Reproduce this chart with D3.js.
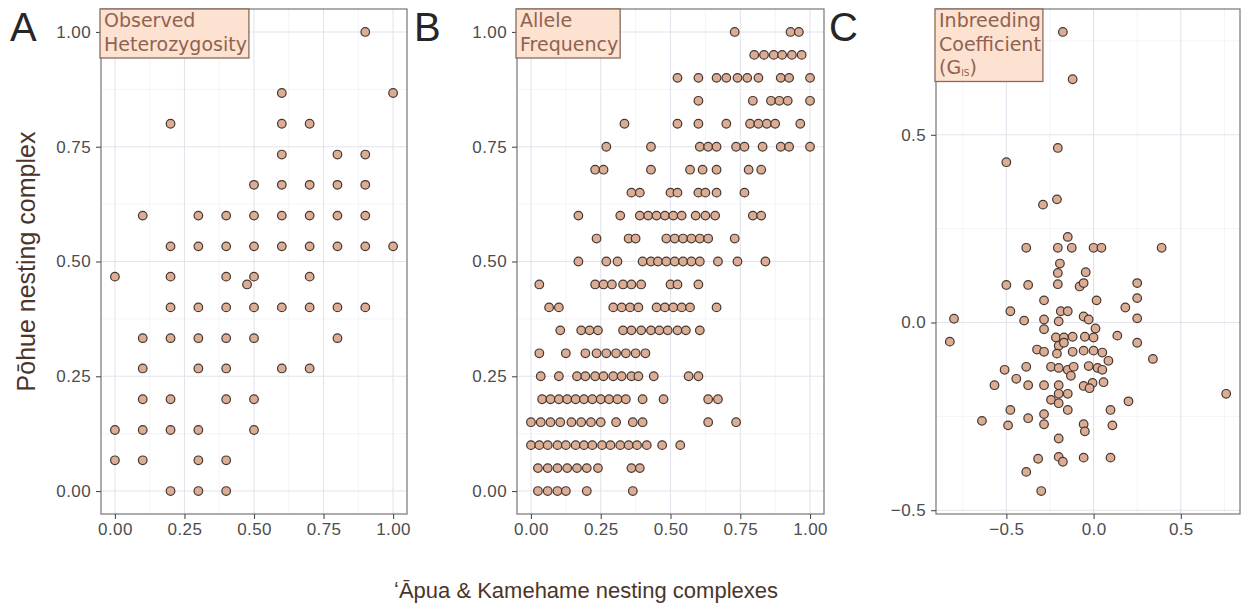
<!DOCTYPE html>
<html>
<head>
  <meta charset="UTF-8">
  <title>Nesting complexes</title>
  <style>
    body { margin: 0; background: #fff; }
    text { font-family: "Liberation Sans", Arial, sans-serif; }
    .lab text { font-family: "DejaVu Sans", sans-serif; }
  </style>
</head>
<body>
  <div class="graph"></div>
  <script src="https://d3js.org/d3.v7.min.js"></script>
  <script>

    /// data

    // A: observed heterozygosity, rows of [y, x values]
    var hetRows = [
      [1.000, [0.9]],
      [0.867, [0.6, 1.0]],
      [0.800, [0.2, 0.6, 0.7]],
      [0.733, [0.6, 0.8, 0.9]],
      [0.667, [0.5, 0.6, 0.7, 0.8, 0.9]],
      [0.600, [0.1, 0.3, 0.4, 0.5, 0.6, 0.7, 0.8, 0.9]],
      [0.533, [0.2, 0.3, 0.4, 0.5, 0.6, 0.7, 0.8, 0.9, 1.0]],
      [0.467, [0.0, 0.2, 0.4, 0.5, 0.7]],
      [0.450, [0.475]],
      [0.400, [0.2, 0.3, 0.4, 0.5, 0.6, 0.7, 0.8, 0.9]],
      [0.333, [0.1, 0.2, 0.3, 0.4, 0.5, 0.8]],
      [0.267, [0.1, 0.3, 0.4, 0.6, 0.7]],
      [0.200, [0.1, 0.2, 0.4, 0.5]],
      [0.133, [0.0, 0.1, 0.2, 0.3, 0.5]],
      [0.067, [0.0, 0.1, 0.3, 0.4]],
      [0.000, [0.2, 0.3, 0.4]]
    ];

    // B: allele frequency, rows of [y, x values]
    var alleleRows = [
      [1.00, [0.73, 0.93, 0.96]],
      [0.95, [0.80, 0.835, 0.87, 0.90, 0.935, 0.97]],
      [0.90, [0.525, 0.60, 0.665, 0.70, 0.74, 0.775, 0.815, 0.895, 0.925, 1.0]],
      [0.85, [0.60, 0.795, 0.86, 0.89, 0.92, 1.0]],
      [0.80, [0.335, 0.525, 0.60, 0.70, 0.785, 0.815, 0.845, 0.875, 0.965]],
      [0.75, [0.27, 0.43, 0.605, 0.635, 0.665, 0.735, 0.765, 0.83, 0.895, 0.925, 1.0]],
      [0.70, [0.23, 0.26, 0.43, 0.57, 0.615, 0.665, 0.78, 0.825]],
      [0.65, [0.36, 0.39, 0.50, 0.525, 0.60, 0.625, 0.665, 0.765]],
      [0.60, [0.17, 0.32, 0.39, 0.42, 0.45, 0.48, 0.51, 0.54, 0.59, 0.625, 0.66, 0.795, 0.825]],
      [0.55, [0.235, 0.35, 0.375, 0.485, 0.515, 0.545, 0.575, 0.605, 0.635, 0.73]],
      [0.50, [0.17, 0.27, 0.31, 0.40, 0.43, 0.455, 0.485, 0.515, 0.545, 0.575, 0.605, 0.67, 0.74, 0.84]],
      [0.45, [0.03, 0.23, 0.26, 0.29, 0.33, 0.36, 0.395, 0.50, 0.525, 0.60]],
      [0.40, [0.065, 0.10, 0.295, 0.325, 0.355, 0.385, 0.45, 0.48, 0.51, 0.54, 0.57, 0.665]],
      [0.35, [0.105, 0.18, 0.21, 0.24, 0.33, 0.36, 0.395, 0.43, 0.46, 0.49, 0.525, 0.555, 0.605]],
      [0.30, [0.03, 0.125, 0.195, 0.235, 0.27, 0.305, 0.34, 0.375, 0.41]],
      [0.25, [0.035, 0.10, 0.165, 0.195, 0.23, 0.26, 0.295, 0.325, 0.36, 0.385, 0.44, 0.565, 0.60]],
      [0.20, [0.04, 0.07, 0.10, 0.13, 0.16, 0.19, 0.22, 0.25, 0.28, 0.31, 0.34, 0.40, 0.475, 0.635, 0.67]],
      [0.15, [0.0, 0.035, 0.07, 0.105, 0.145, 0.18, 0.215, 0.25, 0.305, 0.365, 0.40, 0.635, 0.735]],
      [0.10, [0.0, 0.03, 0.06, 0.095, 0.125, 0.16, 0.19, 0.22, 0.255, 0.285, 0.32, 0.35, 0.38, 0.415, 0.47, 0.535]],
      [0.05, [0.025, 0.06, 0.095, 0.13, 0.165, 0.20, 0.24, 0.36, 0.39]],
      [0.00, [0.025, 0.06, 0.095, 0.125, 0.20, 0.365]]
    ];

    // C: inbreeding coefficient, [x, y] pairs
    var gisPoints = [
      [-0.176, 0.774], [-0.12, 0.648], [-0.205, 0.465], [-0.50, 0.427], [-0.29, 0.314], [-0.21, 0.328],
      [-0.148, 0.228], [-0.386, 0.199], [-0.205, 0.199], [-0.125, 0.199], [0.0, 0.199], [0.045, 0.199],
      [0.39, 0.199], [-0.193, 0.157], [-0.205, 0.132], [-0.045, 0.134], [-0.50, 0.10], [-0.375, 0.10],
      [-0.205, 0.102], [-0.08, 0.096], [-0.057, 0.105], [0.25, 0.105], [0.25, 0.065], [-0.284, 0.059],
      [0.017, 0.059], [0.182, 0.04], [-0.477, 0.03], [-0.188, 0.03], [-0.148, 0.03], [-0.80, 0.01],
      [-0.398, 0.005], [-0.284, 0.008], [-0.20, 0.003], [-0.057, 0.016], [-0.028, 0.008], [0.25, 0.011],
      [-0.284, -0.018], [0.011, -0.016], [-0.824, -0.051], [-0.216, -0.04], [-0.17, -0.04], [-0.12, -0.038],
      [-0.05, -0.038], [0.0, -0.04], [0.136, -0.035], [0.25, -0.054], [-0.20, -0.062], [-0.17, -0.054],
      [-0.324, -0.072], [-0.284, -0.078], [-0.21, -0.083], [-0.12, -0.078], [-0.057, -0.075], [0.0, -0.075],
      [0.05, -0.08], [0.085, -0.102], [0.34, -0.097], [-0.51, -0.126], [-0.386, -0.118], [-0.244, -0.118],
      [-0.20, -0.121], [-0.148, -0.126], [-0.114, -0.118], [-0.028, -0.116], [0.023, -0.121], [0.05, -0.126],
      [-0.13, -0.142], [-0.568, -0.167], [-0.443, -0.15], [-0.375, -0.167], [-0.284, -0.167], [-0.20, -0.167],
      [-0.057, -0.169], [-0.006, -0.161], [-0.023, -0.175], [0.057, -0.159], [-0.20, -0.19], [-0.148, -0.19],
      [-0.244, -0.206], [-0.20, -0.215], [-0.148, -0.233], [0.76, -0.19], [0.20, -0.21], [-0.477, -0.233],
      [0.097, -0.233], [-0.64, -0.262], [-0.49, -0.274], [-0.375, -0.255], [-0.284, -0.244], [-0.284, -0.271],
      [-0.057, -0.271], [-0.05, -0.29], [0.108, -0.274], [-0.20, -0.309], [-0.318, -0.363], [-0.20, -0.358],
      [-0.176, -0.371], [-0.057, -0.36], [0.097, -0.36], [-0.386, -0.398], [-0.30, -0.449]
    ];

    var unitTicks = [0, 0.25, 0.5, 0.75, 1];
    var unitMinor = [0.125, 0.375, 0.625, 0.875];
    var gisTicks = [-0.5, 0, 0.5];
    var gisMinor = [-0.75, -0.25, 0.25, 0.75];

    var xTitle = "\u02BB\u0100pua & Kamehame nesting complexes";
    var yTitle = "P\u014Dhue nesting complex";

    /// helpers

    function fromRows(rows) {
      return rows.flatMap(function(r) { return r[1].map(function(x) { return [x, r[0]]; }); });
    }
    function expand(ext) {
      var s = ext[1] - ext[0];
      return [ext[0] - s * 0.05, ext[1] + s * 0.05];
    }

    /// main

    var width = 1241, height = 606;
    var panelTop = 9, panelBottom = 514;

    var svg = d3.select(".graph").append("svg")
      .attr("width", width)
      .attr("height", height);

    var gisX = gisPoints.map(function(d) { return d[0]; });
    var gisY = gisPoints.map(function(d) { return d[1]; });

    var panels = [
      { letter: "A", lx: 10, left: 101, right: 407, pts: fromRows(hetRows),
        label: ["Observed", "Heterozygosity"],
        xd: [-0.05, 1.05], yd: [-0.05, 1.05], ticks: unitTicks, minor: unitMinor, yticks: unitTicks, yminor: unitMinor,
        fmt: d3.format(".2f") },
      { letter: "B", lx: 414, left: 517, right: 824, pts: fromRows(alleleRows),
        label: ["Allele", "Frequency"],
        xd: [-0.05, 1.05], yd: [-0.05, 1.05], ticks: unitTicks, minor: unitMinor, yticks: unitTicks, yminor: unitMinor,
        fmt: d3.format(".2f") },
      { letter: "C", lx: 829, left: 936, right: 1240, pts: gisPoints,
        label: ["Inbreeding", "Coefficient", "(G"],
        xd: expand(d3.extent(gisX)), yd: expand(d3.extent(gisY)), ticks: gisTicks, minor: gisMinor, yticks: gisTicks, yminor: gisMinor,
        fmt: d3.format(".1f") }
    ];

    panels.forEach(function(p) {
      var x = d3.scaleLinear().domain(p.xd).range([p.left, p.right]);
      var y = d3.scaleLinear().domain(p.yd).range([panelBottom, panelTop]);
      var g = svg.append("g");

      var xMinor = p.minor.filter(function(v) { return v > p.xd[0] && v < p.xd[1]; });
      var yMinor = p.yminor.filter(function(v) { return v > p.yd[0] && v < p.yd[1]; });

      // grid
      g.selectAll(".vminor").data(xMinor).enter().append("line")
        .attr("x1", x).attr("x2", x).attr("y1", panelTop).attr("y2", panelBottom)
        .attr("stroke", "#f1f1f6").attr("stroke-width", 0.8);
      g.selectAll(".hminor").data(yMinor).enter().append("line")
        .attr("y1", y).attr("y2", y).attr("x1", p.left).attr("x2", p.right)
        .attr("stroke", "#f1f1f6").attr("stroke-width", 0.8);
      g.selectAll(".vmajor").data(p.ticks).enter().append("line")
        .attr("x1", x).attr("x2", x).attr("y1", panelTop).attr("y2", panelBottom)
        .attr("stroke", "#e3e3ec").attr("stroke-width", 1.1);
      g.selectAll(".hmajor").data(p.yticks).enter().append("line")
        .attr("y1", y).attr("y2", y).attr("x1", p.left).attr("x2", p.right)
        .attr("stroke", "#e3e3ec").attr("stroke-width", 1.1);

      // points
      g.selectAll("circle").data(p.pts).enter().append("circle")
        .attr("cx", function(d) { return x(d[0]); })
        .attr("cy", function(d) { return y(d[1]); })
        .attr("r", 4.3)
        .attr("fill", "#dbad94")
        .attr("stroke", "#453732")
        .attr("stroke-width", 1.2);

      // border
      g.append("rect")
        .attr("x", p.left).attr("y", panelTop)
        .attr("width", p.right - p.left).attr("height", panelBottom - panelTop)
        .attr("fill", "none").attr("stroke", "#808080").attr("stroke-width", 1.3);

      // axes
      var xa = g.append("g").attr("transform", "translate(0," + panelBottom + ")")
        .call(d3.axisBottom(x).tickValues(p.ticks).tickFormat(p.fmt).tickSize(5).tickPadding(4));
      var ya = g.append("g").attr("transform", "translate(" + p.left + ",0)")
        .call(d3.axisLeft(y).tickValues(p.yticks).tickFormat(p.fmt).tickSize(5).tickPadding(5));
      [xa, ya].forEach(function(a) {
        a.select(".domain").remove();
        a.selectAll("line").attr("stroke", "#4d4d4d").attr("stroke-width", 1.1);
        a.selectAll("text").attr("fill", "#4d4d4d").style("font-size", "17px")
          .style("letter-spacing", "0.4px")
          .style("font-family", "'Liberation Sans', Arial, sans-serif");
      });

      // panel label box
      var lab = g.append("g").attr("class", "lab");
      var box = lab.append("rect")
        .attr("fill", "#fde1d1").attr("stroke", "#8a6a5c").attr("stroke-width", 1.3);
      var txt = lab.append("text")
        .attr("fill", "#8f6350")
        .style("font-size", "19px");
      p.label.forEach(function(s, i) {
        txt.append("tspan").attr("x", p.left + 3).attr("y", panelTop + 18 + i * 23.5).text(s);
      });
      if (p.letter === "C") {
        txt.append("tspan").style("font-size", "9px").attr("dy", 2).text("IS");
        txt.append("tspan").attr("dy", -2).text(")");
      }
      var bb = txt.node().getBBox();
      box.attr("x", p.left - 1).attr("y", panelTop)
        .attr("width", bb.width + 6).attr("height", p.label.length * 23.5 + 2);

      // facet letter
      svg.append("text")
        .attr("x", p.lx).attr("y", 41)
        .attr("fill", "#262626")
        .style("font-size", "40px")
        .text(p.letter);
    });

    // axis titles
    svg.append("text")
      .attr("x", 586).attr("y", 598)
      .attr("text-anchor", "middle")
      .attr("fill", "#4b3529")
      .style("font-size", "22px")
      .text(xTitle);

    svg.append("text")
      .attr("transform", "translate(35," + (panelTop + panelBottom) / 2 + ") rotate(-90)")
      .attr("text-anchor", "middle")
      .attr("fill", "#4b3529")
      .style("font-size", "25px")
      .text(yTitle);

  </script>
</body>
</html>
